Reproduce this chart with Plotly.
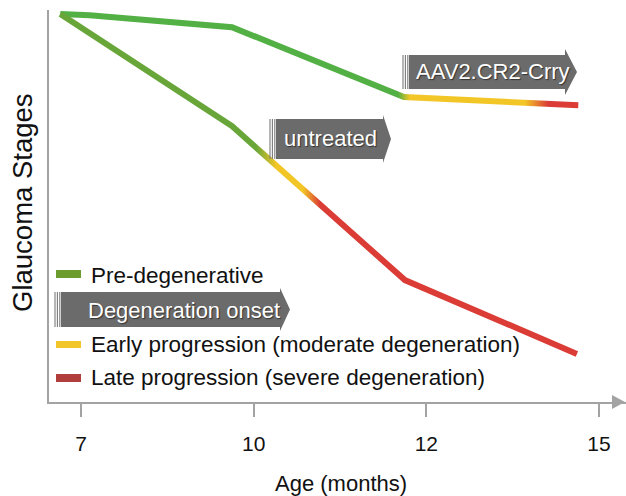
import numpy as np
import plotly.graph_objects as go

# ---------------- data ----------------
tick_labels = ["7", "10", "12", "15"]
tick_pos = [0, 1, 2, 3]

# Glaucoma stage score (100 = healthy, 0 = axis)
treated_x = [-0.12, 0.05, 0.875, 1.87, 2.88]
treated_y = [100.0, 99.7, 96.6, 78.6, 76.5]
untreated_x = [-0.12, 0.875, 1.876, 2.872]
untreated_y = [100.0, 71.1, 31.4, 12.4]

# stage transitions along x: [green ends, yellow starts, yellow ends, red starts]
treated_stage_x = [1.836, 1.905, 2.571, 2.705]
untreated_stage_x = [1.013, 1.129, 1.286, 1.384]

legend_labels = ["Pre-degenerative", "Degeneration onset",
                 "Early progression (moderate degeneration)",
                 "Late progression (severe degeneration)"]
box_labels = ["untreated", "AAV2.CR2-Crry"]

# ---------------- layout geometry ----------------
W, H = 626, 496
ML, MR, MT, MB = 49, 0, 10, 94
PW, PH = W - ML - MR, H - MT - MB
XR = [-0.1853, 3.1563]
YR = [0, 101.03]

GREEN = "#52b044"
GREEN_U = "#68a63a"
YELLOW = "#f2c626"
RED = "#db3c36"
GRAY_BOX = "#6b6b6b"
AXIS = "#a3a3a3"
TXT = "#111111"
FONT = "Liberation Sans, Arial, sans-serif"


def to_px(x):
    return ML + (np.asarray(x, float) - XR[0]) / (XR[1] - XR[0]) * PW


def to_py(y):
    return MT + PH - (np.asarray(y, float) - YR[0]) / (YR[1] - YR[0]) * PH


def from_px(px):
    return XR[0] + (px - ML) / PW * (XR[1] - XR[0])


def from_py(py):
    return YR[0] + (MT + PH - py) / PH * (YR[1] - YR[0])


def band(xs, ys, w):
    P = np.column_stack([to_px(xs), to_py(ys)])
    n = len(P)
    normals = []
    for i in range(n - 1):
        d = P[i + 1] - P[i]
        d = d / np.linalg.norm(d)
        normals.append(np.array([-d[1], d[0]]))
    offs = []
    for i in range(n):
        if i == 0:
            v = normals[0]
        elif i == n - 1:
            v = normals[-1]
        else:
            m = normals[i - 1] + normals[i]
            m = m / np.linalg.norm(m)
            v = m / np.dot(m, normals[i])
        offs.append(v * w / 2)
    offs = np.array(offs)
    top = P + offs
    bot = P - offs
    poly = np.vstack([top, bot[::-1], top[:1]])
    return from_px(poly[:, 0]), from_py(poly[:, 1])


def stage_scale(bx, stages, c_start):
    x0, x1 = float(np.min(bx)), float(np.max(bx))
    pos = [(s - x0) / (x1 - x0) for s in stages]
    cs = [[0, c_start], [pos[0], c_start], [pos[1], YELLOW],
          [pos[2], YELLOW], [pos[3], RED], [1, RED]]
    return x0, x1, cs


fig = go.Figure()

for xs, ys, stages, c0 in [(treated_x, treated_y, treated_stage_x, GREEN),
                           (untreated_x, untreated_y, untreated_stage_x, GREEN_U)]:
    bx, by = band(xs, ys, 6.0)
    x0, x1, cs = stage_scale(bx, stages, c0)
    fig.add_trace(go.Scatter(
        x=bx, y=by, mode="lines", fill="toself",
        line=dict(width=0, color="rgba(0,0,0,0)"),
        fillgradient=dict(type="horizontal", colorscale=cs, start=x0, stop=x1),
        hoverinfo="skip", showlegend=False))


# ---------------- decorations (pixel -> paper helpers) ----------------
def PX(px):
    return (px - ML) / PW


def PY(py):
    return (MT + PH - py) / PH


shapes = []
annotations = []


def arrow_box(xs0, xb0, xb1, xtip, yt, yb, head, label, tx, ty):
    for k in range(3):
        xx = xs0 + k * 2.4
        shapes.append(dict(type="line", xref="paper", yref="paper",
                           x0=PX(xx), x1=PX(xx), y0=PY(yt), y1=PY(yb),
                           line=dict(color="#7a7a7a", width=1.1)))
    ym = (yt + yb) / 2
    pts = [(xb0, yt), (xb1, yt), (xb1, yt - head), (xtip, ym),
           (xb1, yb + head), (xb1, yb), (xb0, yb)]
    path = "M " + " L ".join(f"{PX(a):.5f},{PY(b):.5f}" for a, b in pts) + " Z"
    shapes.append(dict(type="path", xref="paper", yref="paper", path=path,
                       fillcolor=GRAY_BOX, line=dict(width=0)))
    annotations.append(dict(text=label, xref="paper", yref="paper",
                            x=PX(tx), y=PY(ty), xanchor="center", yanchor="middle",
                            showarrow=False,
                            font=dict(family=FONT, size=22, color="white",
                                      shadow="1px 1px 1px #333333")))


arrow_box(270, 276, 383, 391, 119, 159, 4, box_labels[0], 330, 138)
arrow_box(403, 409, 565, 577, 55, 89, 6, box_labels[1], 493, 71)
arrow_box(55, 61, 280, 290, 292, 327, 4, legend_labels[1], 184, 310)

# legend swatches
for (y0, y1, col) in [(270, 278, "#6b9c2e"), (341, 348, "#f2c52a"), (374, 382, "#b23e3c")]:
    shapes.append(dict(type="rect", xref="paper", yref="paper",
                       x0=PX(56), x1=PX(81), y0=PY(y1), y1=PY(y0),
                       fillcolor=col, line=dict(width=0)))
for lab, yy in [(legend_labels[0], 275), (legend_labels[2], 344), (legend_labels[3], 377)]:
    annotations.append(dict(text=lab, xref="paper", yref="paper",
                            x=PX(89), y=PY(yy), xanchor="left", yanchor="middle",
                            showarrow=False,
                            font=dict(family=FONT, size=22.5, color=TXT)))

# x-axis arrow head
shapes.append(dict(type="path", xref="paper", yref="paper",
                   path=f"M {PX(612):.5f},{PY(395):.5f} L {PX(625):.5f},{PY(402):.5f} "
                        f"L {PX(612):.5f},{PY(409):.5f} Z",
                   fillcolor=AXIS, line=dict(width=0)))

# axis titles
annotations.append(dict(text="Age (months)", xref="paper", yref="paper",
                        x=PX(341), y=PY(483), xanchor="center", yanchor="middle",
                        showarrow=False, font=dict(family=FONT, size=22, color=TXT)))
annotations.append(dict(text="Glaucoma Stages", xref="paper", yref="paper",
                        x=PX(22), y=PY(203), xanchor="center", yanchor="middle",
                        textangle=-90, showarrow=False,
                        font=dict(family=FONT, size=27.5, color=TXT)))

fig.update_layout(
    width=W, height=H,
    margin=dict(l=ML, r=MR, t=MT, b=MB),
    paper_bgcolor="white", plot_bgcolor="white",
    showlegend=False,
    shapes=shapes, annotations=annotations,
    xaxis=dict(range=XR, tickvals=tick_pos, ticktext=tick_labels,
               showgrid=False, zeroline=False, showline=True,
               linecolor=AXIS, linewidth=1.5,
               ticks="outside", ticklen=13, tickwidth=1.5, tickcolor=AXIS,
               ticklabelstandoff=9,
               tickfont=dict(family=FONT, size=21, color=TXT), fixedrange=True),
    yaxis=dict(range=YR, showticklabels=False, showgrid=False, zeroline=False,
               showline=True, linecolor=AXIS, linewidth=1.5, ticks="",
               fixedrange=True),
)

fig.write_html("out.html", config={"displayModeBar": False},
               post_script="document.body.style.margin='0';document.body.style.overflow='hidden';")
